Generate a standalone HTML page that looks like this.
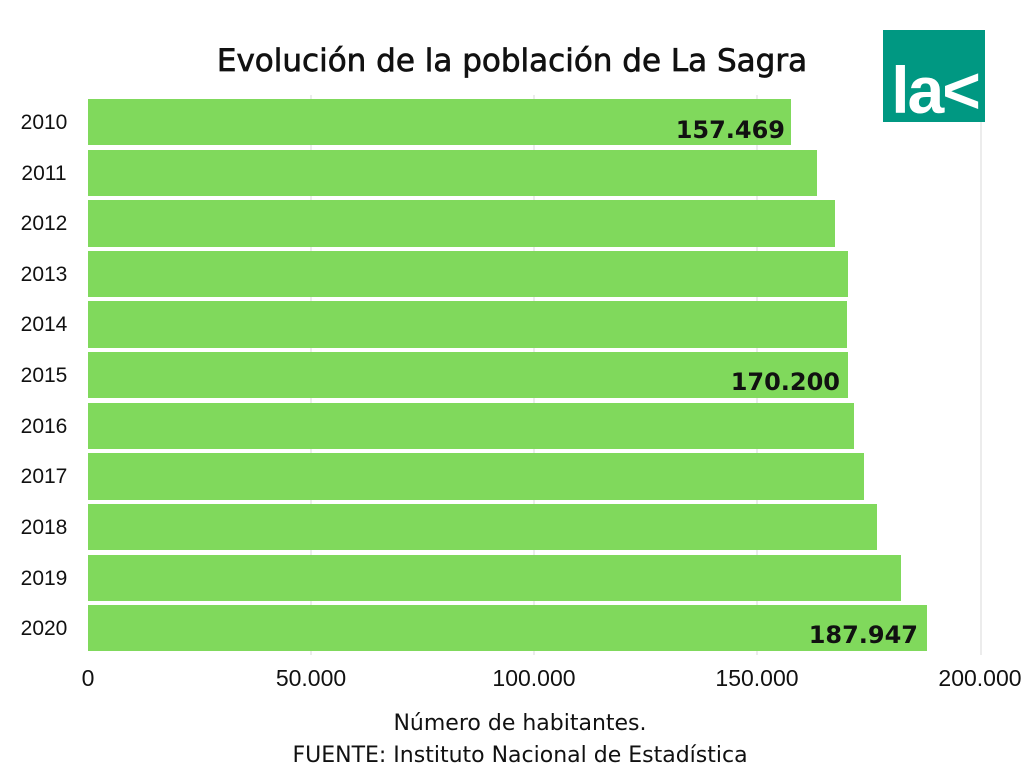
<!DOCTYPE html>
<html><head><meta charset="utf-8"><style>body{margin:0;background:#fff}</style></head><body>
<svg width="1024" height="768" xmlns="http://www.w3.org/2000/svg" font-family="Liberation Sans, sans-serif">
<rect width="1024" height="768" fill="#fff"/>
<g stroke="#d9d9d9" stroke-width="1">
<line x1="311" y1="95" x2="311" y2="655"/><line x1="534" y1="95" x2="534" y2="655"/>
<line x1="757" y1="95" x2="757" y2="655"/><line x1="981" y1="95" x2="981" y2="655"/>
</g>
<text x="512" y="71" font-size="31" text-anchor="middle" fill="#111" stroke="#111" stroke-width="0.7" font-family="DejaVu Sans, sans-serif">Evolución de la población de La Sagra</text>
<g fill="#80d95c">
<rect x="88" y="99" width="703" height="46"/>
<rect x="88" y="150" width="729" height="46"/>
<rect x="88" y="200" width="747" height="47"/>
<rect x="88" y="251" width="760" height="46"/>
<rect x="88" y="301" width="759" height="47"/>
<rect x="88" y="352" width="760" height="46"/>
<rect x="88" y="403" width="766" height="46"/>
<rect x="88" y="453" width="776" height="47"/>
<rect x="88" y="504" width="789" height="46"/>
<rect x="88" y="555" width="813" height="46"/>
<rect x="88" y="605" width="839" height="46"/>
</g>
<g font-size="21" fill="#111" text-anchor="middle">
<text x="44" y="129">2010</text><text x="44" y="180">2011</text><text x="44" y="230">2012</text>
<text x="44" y="281">2013</text><text x="44" y="331">2014</text><text x="44" y="382">2015</text>
<text x="44" y="433">2016</text><text x="44" y="483">2017</text><text x="44" y="534">2018</text>
<text x="44" y="585">2019</text><text x="44" y="635">2020</text>
</g>
<g font-size="24" font-weight="bold" fill="#111" text-anchor="end" font-family="DejaVu Sans, sans-serif">
<text x="785" y="138">157.469</text><text x="840" y="390">170.200</text><text x="918" y="643">187.947</text>
</g>
<g font-size="23" fill="#111" text-anchor="middle">
<text x="88" y="686">0</text><text x="311" y="686">50.000</text><text x="534" y="686">100.000</text>
<text x="757" y="686">150.000</text><text x="980" y="686">200.000</text>
</g>
<g font-size="22" fill="#111" text-anchor="middle" font-family="DejaVu Sans, sans-serif">
<text x="520" y="730">Número de habitantes.</text>
<text x="520" y="762">FUENTE: Instituto Nacional de Estadística</text>
</g>
<rect x="883" y="30" width="102" height="92" fill="#009882"/>
<text x="935" y="113" font-size="66" font-weight="bold" fill="#fff" text-anchor="middle" letter-spacing="-2">la&lt;</text>
</svg>
</body></html>
